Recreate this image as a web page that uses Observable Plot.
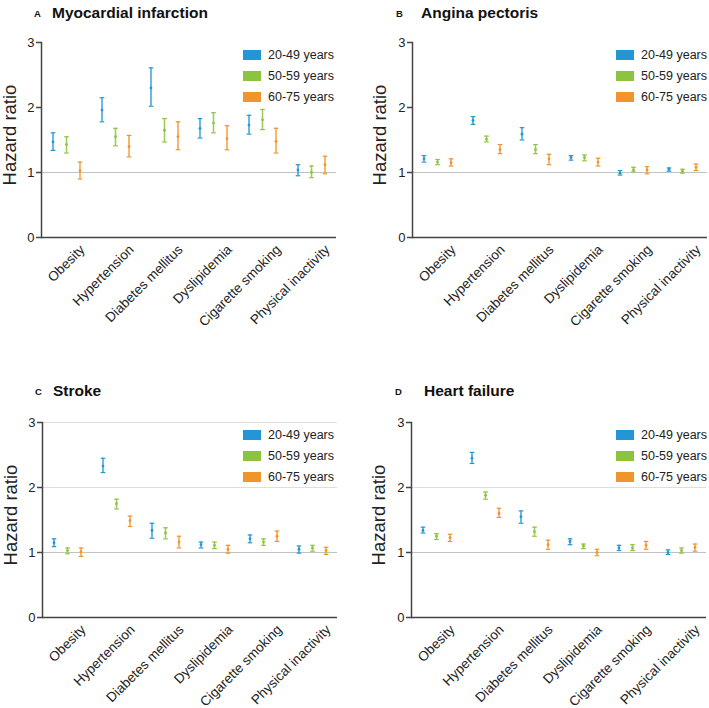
<!DOCTYPE html>
<html><head><meta charset="utf-8">
<script src="https://cdn.jsdelivr.net/npm/d3@7"></script>
<script src="https://cdn.jsdelivr.net/npm/@observablehq/plot@0.6"></script>
<style>
body{margin:0;background:#fff;font-family:"Liberation Sans",Arial,sans-serif;color:#111;}
#root{position:relative;width:709px;height:708px;overflow:hidden;}
.abs{position:absolute;white-space:nowrap;}
.letter{font-weight:bold;font-size:9.5px;line-height:1;}
.title{font-weight:bold;font-size:15.5px;line-height:1;}
.ylab{font-size:18.5px;line-height:1;transform:translate(-50%,-50%) rotate(-90deg);color:#222;}
.sw{width:18px;height:10px;}
.lt{font-size:12.5px;line-height:1;color:#222;}
</style></head><body><div id="root"></div>
<script>
const categories = ["Obesity","Hypertension","Diabetes mellitus","Dyslipidemia","Cigarette smoking","Physical inactivity"];
const ageGroups = ["20-49 years","50-59 years","60-75 years"];
const groupColors = ["#2496d6","#8cc43f","#f0952b"];
const yTicks = [0,1,2,3];

// rows = age groups, columns = categories
const miHR = [[1.47,1.96,2.30,1.68,1.73,1.04],[1.43,1.55,1.65,1.76,1.81,1.00],[1.03,1.40,1.55,1.52,1.48,1.12]];
const miLo = [[1.34,1.78,2.02,1.53,1.59,0.95],[1.30,1.41,1.47,1.61,1.66,0.92],[0.90,1.24,1.35,1.35,1.30,0.98]];
const miHi = [[1.61,2.15,2.61,1.83,1.88,1.12],[1.55,1.68,1.83,1.92,1.97,1.10],[1.16,1.57,1.78,1.72,1.68,1.25]];

const apHR = [[1.21,1.80,1.59,1.23,0.99,1.05],[1.16,1.51,1.35,1.23,1.04,1.02],[1.15,1.35,1.21,1.16,1.04,1.08]];
const apLo = [[1.16,1.74,1.50,1.19,0.96,1.02],[1.12,1.47,1.29,1.18,1.01,0.99],[1.10,1.29,1.12,1.10,0.98,1.03]];
const apHi = [[1.26,1.86,1.69,1.26,1.03,1.07],[1.20,1.56,1.43,1.27,1.08,1.05],[1.21,1.43,1.28,1.22,1.09,1.13]];

const stHR = [[1.15,2.33,1.34,1.12,1.21,1.05],[1.03,1.75,1.30,1.11,1.16,1.07],[1.01,1.49,1.16,1.05,1.25,1.03]];
const stLo = [[1.09,2.23,1.22,1.07,1.15,0.99],[0.98,1.67,1.21,1.06,1.11,1.02],[0.94,1.40,1.07,0.99,1.17,0.97]];
const stHi = [[1.21,2.45,1.45,1.16,1.27,1.10],[1.07,1.82,1.38,1.16,1.21,1.11],[1.07,1.56,1.25,1.11,1.33,1.08]];

const hfHR = [[1.34,2.45,1.55,1.17,1.07,1.00],[1.25,1.88,1.32,1.10,1.07,1.03],[1.23,1.60,1.12,1.00,1.11,1.08]];
const hfLo = [[1.30,2.37,1.45,1.12,1.03,0.97],[1.20,1.82,1.25,1.06,1.03,0.99],[1.17,1.54,1.05,0.95,1.05,1.02]];
const hfHi = [[1.39,2.54,1.64,1.21,1.11,1.04],[1.29,1.93,1.39,1.13,1.12,1.07],[1.28,1.68,1.19,1.05,1.17,1.13]];

const panels = [
  {letter:"A", title:"Myocardial infarction", hr:miHR, lo:miLo, hi:miHi, left:0, top:0, lightGrid:[], letterX:34, titleX:52, titleTop:4.5, ylabX:10, ylabY:135, legX:243, legY:50},
  {letter:"B", title:"Angina pectoris", hr:apHR, lo:apLo, hi:apHi, left:371, top:0, lightGrid:[], letterX:396, titleX:421, titleTop:4.5, ylabX:380, ylabY:135, legX:616, legY:50},
  {letter:"C", title:"Stroke", hr:stHR, lo:stLo, hi:stHi, left:1, top:380, lightGrid:[2,3], letterX:35, titleX:53, titleTop:382.5, ylabX:11, ylabY:515, legX:243, legY:430},
  {letter:"D", title:"Heart failure", hr:hfHR, lo:hfLo, hi:hfHi, left:370, top:380, lightGrid:[2], letterX:395, titleX:424, titleTop:382.5, ylabX:379, ylabY:515, legX:616, legY:430}
];

const groupDx = [-13.5, 0, 13.5];
const hline = {draw(ctx, size){ const w = Math.sqrt(size/Math.PI); ctx.moveTo(-w,0); ctx.lineTo(w,0); }};
const root = document.getElementById("root");

function add(txt, cls, x, y, extra){
  const d = document.createElement("div");
  d.className = "abs " + cls;
  d.style.left = x + "px"; d.style.top = y + "px";
  if (extra) Object.assign(d.style, extra);
  d.textContent = txt;
  root.appendChild(d);
  return d;
}

for (const p of panels) {
  const rows = categories.flatMap((c,i) => ageGroups.map((g,j) => ({cat:c, group:g, hr:p.hr[j][i], lo:p.lo[j][i], hi:p.hi[j][i]})));
  const marks = [
    Plot.ruleY(p.lightGrid, {stroke:"#dedede", strokeWidth:1}),
    Plot.ruleY([1], {stroke:"#c2c2c2", strokeWidth:1.2}),
  ];
  ageGroups.forEach((g,j) => {
    const sub = rows.filter(r => r.group === g);
    const dx = groupDx[j];
    marks.push(
      Plot.ruleX(sub, {x:"cat", y1:"lo", y2:"hi", stroke:"group", strokeWidth:1.6, strokeOpacity:0.85, dx}),
      Plot.dot(sub, {x:"cat", y:"lo", symbol:hline, r:2.3, stroke:"group", fill:"none", strokeWidth:1.2, dx}),
      Plot.dot(sub, {x:"cat", y:"hi", symbol:hline, r:2.3, stroke:"group", fill:"none", strokeWidth:1.2, dx}),
      Plot.dot(sub, {x:"cat", y:"hr", r:1.4, fill:"group", stroke:null, dx})
    );
  });
  marks.push(
    Plot.ruleY([0], {stroke:"#444", strokeWidth:1.5}),
    Plot.frame({anchor:"left", stroke:"#444", strokeWidth:1.5}),
    Plot.axisY({ticks:yTicks, tickSize:5, tickPadding:2, fontSize:13, label:null, stroke:"#444", strokeWidth:1.5, fill:"#222", tickFormat:d=>String(d)}),
    Plot.axisX({tickSize:0, tickRotate:-45, fontSize:13.5, label:null, dx:16, dy:-2, fill:"#222"})
  );
  const chart = Plot.plot({
    width:338, height:328,
    marginLeft:41, marginRight:2, marginTop:42, marginBottom:91,
    style:{fontFamily:"Liberation Sans, Arial, sans-serif", background:"transparent", overflow:"visible"},
    x:{type:"point", domain:categories, padding:0.46},
    y:{domain:[0,3]},
    color:{domain:ageGroups, range:groupColors},
    marks
  });
  chart.style.position = "absolute";
  chart.style.left = p.left + "px";
  chart.style.top = p.top + "px";
  root.appendChild(chart);

  add(p.letter, "letter", p.letterX, p.titleTop + 4.5);
  add(p.title, "title", p.titleX, p.titleTop);
  add("Hazard ratio", "ylab", p.ylabX, p.ylabY);
  ageGroups.forEach((g,j) => {
    add("", "sw", p.legX, p.legY + j*21, {background:groupColors[j]});
    add(g, "lt", p.legX + 25, p.legY + j*21 - 1);
  });
}
</script></body></html>
